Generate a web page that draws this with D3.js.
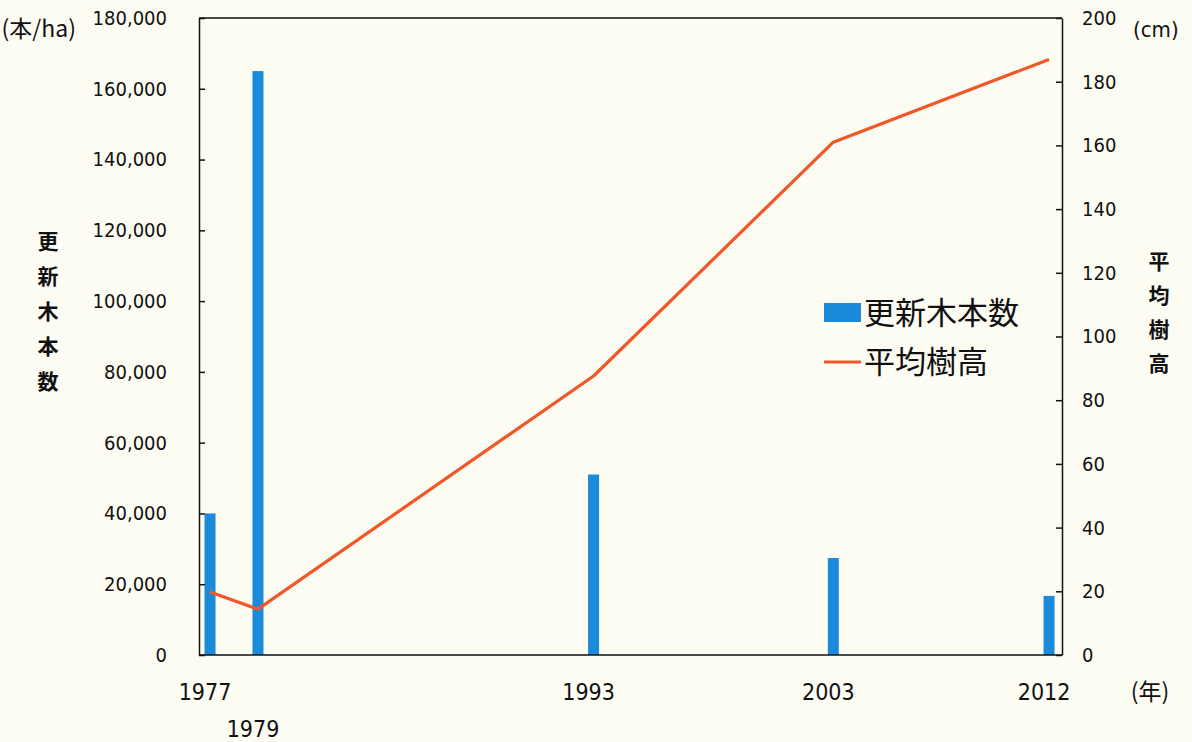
<!DOCTYPE html>
<html><head><meta charset="utf-8">
<script src="https://cdn.jsdelivr.net/npm/d3@7"></script>
<style>
html,body{margin:0;padding:0;background:#fcfcf3;}
svg{display:block;}
</style></head>
<body>
<svg id="chart" width="1192" height="742"></svg>
<script>
// Data
const years = [1977, 1979, 1993, 2003, 2012];
const treeCounts = [40000, 165000, 51000, 27400, 16700];      // 更新木本数 (本/ha)
const meanHeights = [19.8, 14.4, 87.6, 161, 187];              // 平均樹高 (cm)
const leftTicks = [0, 20000, 40000, 60000, 80000, 100000, 120000, 140000, 160000, 180000];
const rightTicks = [0, 20, 40, 60, 80, 100, 120, 140, 160, 180, 200];
const seriesNames = ["更新木本数", "平均樹高"];

const W = 1192, H = 742;
const L = 199, R = 1062, T = 18, B = 655;
const NUM = "'DejaVu Sans Condensed','Liberation Sans',sans-serif";
const CJK = "'Noto Sans CJK JP','Noto Sans CJK SC',sans-serif";
const BLUE = "#1a8ad9", ORANGE = "#f0582a";

const svg = d3.select("#chart");
svg.append("rect").attr("width", W).attr("height", H).attr("fill", "#fcfcf3");

const x = d3.scaleLinear().domain([1976.54, 2012.54]).range([L, R]);
const yL = d3.scaleLinear().domain([0, 180000]).range([B, T]);
const yR = d3.scaleLinear().domain([0, 200]).range([B, T]);

// Bars
const bw = 11;
svg.append("g").selectAll("rect").data(years).join("rect")
  .attr("x", d => x(d) - bw / 2)
  .attr("width", bw)
  .attr("y", (d, i) => yL(treeCounts[i]))
  .attr("height", (d, i) => B - yL(treeCounts[i]))
  .attr("fill", BLUE);

// Line
const line = d3.line().x((d, i) => x(years[i])).y(d => yR(d));
svg.append("path").datum(meanHeights)
  .attr("d", line)
  .attr("fill", "none")
  .attr("stroke", ORANGE)
  .attr("stroke-width", 3.2)
  .attr("stroke-linejoin", "round");

// Frame (top & bottom)
svg.append("line").attr("x1", L).attr("x2", R).attr("y1", T).attr("y2", T)
  .attr("stroke", "#111").attr("stroke-width", 1.5);
svg.append("line").attr("x1", L).attr("x2", R).attr("y1", B).attr("y2", B)
  .attr("stroke", "#111").attr("stroke-width", 1.5);

// Left axis
const axL = svg.append("g").attr("transform", `translate(${L},0)`)
  .call(d3.axisLeft(yL).tickValues(leftTicks).tickFormat(d3.format(","))
    .tickSizeInner(-6).tickSizeOuter(0).tickPadding(32));
axL.selectAll("path,line").attr("stroke", "#111").attr("stroke-width", 1.5);
axL.selectAll("text").attr("font-family", NUM).attr("font-size", 20).attr("fill", "#111");

// Right axis
const axR = svg.append("g").attr("transform", `translate(${R},0)`)
  .call(d3.axisRight(yR).tickValues(rightTicks)
    .tickSizeInner(-6).tickSizeOuter(0).tickPadding(20));
axR.selectAll("path,line").attr("stroke", "#111").attr("stroke-width", 1.5);
axR.selectAll("text").attr("font-family", NUM).attr("font-size", 20).attr("fill", "#111");

// Year labels
svg.append("g").selectAll("text").data(years).join("text")
  .attr("x", d => x(d) - 5)
  .attr("y", d => d === 1979 ? 729 : 692)
  .attr("dy", "0.35em")
  .attr("text-anchor", "middle")
  .attr("font-family", NUM).attr("font-size", 23).attr("fill", "#111")
  .text(d => d);

// Unit labels
svg.append("text").attr("x", 76).attr("y", 29).attr("dy", "0.35em")
  .attr("text-anchor", "end").attr("font-family", CJK).attr("font-size", 23).attr("fill", "#111")
  .text("(本/ha)");
svg.append("text").attr("x", 1133).attr("y", 29).attr("dy", "0.35em")
  .attr("font-family", NUM).attr("font-size", 22).attr("fill", "#111")
  .text("(cm)");
svg.append("text").attr("x", 1150).attr("y", 692).attr("dy", "0.35em")
  .attr("text-anchor", "middle").attr("font-family", CJK).attr("font-size", 23).attr("fill", "#111")
  .text("(年)");

// Vertical axis titles
function vtitle(str, cx, y0, step) {
  svg.append("g").selectAll("text").data(Array.from(str)).join("text")
    .attr("x", cx).attr("y", (d, i) => y0 + i * step).attr("dy", "0.35em")
    .attr("text-anchor", "middle").attr("font-family", CJK).attr("font-weight", "bold")
    .attr("font-size", 21).attr("fill", "#111").text(d => d);
}
vtitle(seriesNames[0], 48, 242, 35);
vtitle(seriesNames[1], 1159, 262, 34);

// Legend
const lg = svg.append("g");
lg.append("rect").attr("x", 824).attr("y", 303).attr("width", 37).attr("height", 19).attr("fill", BLUE);
lg.append("text").attr("x", 864).attr("y", 313).attr("dy", "0.35em")
  .attr("font-family", CJK).attr("font-size", 31).attr("fill", "#111").text(seriesNames[0]);
lg.append("line").attr("x1", 824).attr("x2", 861).attr("y1", 362).attr("y2", 362)
  .attr("stroke", ORANGE).attr("stroke-width", 3.2);
lg.append("text").attr("x", 864).attr("y", 362).attr("dy", "0.35em")
  .attr("font-family", CJK).attr("font-size", 31).attr("fill", "#111").text(seriesNames[1]);
</script>
</body></html>
